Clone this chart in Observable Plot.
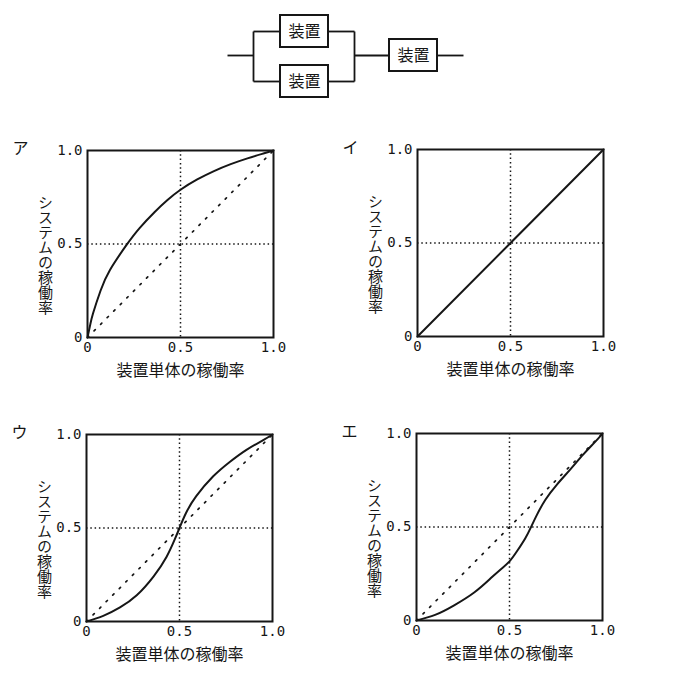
<!DOCTYPE html>
<html>
<head>
<meta charset="utf-8">
<script src="https://cdn.jsdelivr.net/npm/d3@7"></script>
<script src="https://cdn.jsdelivr.net/npm/@observablehq/plot@0.6"></script>
<style>
  html, body { margin: 0; padding: 0; background: #fff; }
  #root { position: relative; width: 680px; height: 690px; overflow: hidden; background: #fff; }
  #root > svg { position: absolute; }
</style>
</head>
<body>
<div id="root"></div>
<script>
// ---------- data ----------
const panelLetters = ["ア", "イ", "ウ", "エ"];
const xTitle = "装置単体の稼働率";
const yTitle = "システムの稼働率";
const tickValues = [0, 0.5, 1];
const tickLabels = ["0", "0.5", "1.0"];
const deviceLabels = ["装置", "装置", "装置"];

// system availability curves (x = single device, y = system)
const curveA_x = [0, 0.015, 0.03, 0.07, 0.12, 0.21, 0.28, 0.36, 0.43, 0.50, 0.59, 0.68, 0.77, 0.86, 0.95, 1];
const curveA_y = [0, 0.07, 0.13, 0.25, 0.36, 0.495, 0.585, 0.67, 0.735, 0.79, 0.845, 0.89, 0.927, 0.958, 0.985, 1];
const curveI_x = [0, 1];
const curveI_y = [0, 1];
const curveU_x = [0, 0.09, 0.18, 0.27, 0.36, 0.43, 0.475, 0.50, 0.535, 0.59, 0.68, 0.77, 0.86, 0.95, 1];
const curveU_y = [0, 0.03, 0.075, 0.14, 0.24, 0.345, 0.44, 0.50, 0.58, 0.67, 0.775, 0.853, 0.918, 0.97, 1];
const curveE_x = [0, 0.10, 0.20, 0.31, 0.40, 0.46, 0.50, 0.54, 0.585, 0.615, 0.648, 0.693, 0.755, 0.826, 0.897, 0.959, 1];
const curveE_y = [0, 0.03, 0.08, 0.15, 0.227, 0.28, 0.316, 0.37, 0.44, 0.498, 0.566, 0.646, 0.727, 0.807, 0.888, 0.954, 1];
const diagX = [0, 1];
const diagY = [0, 1];

// ---------- helpers ----------
const ink = "#161616";
const jp = "'Noto Sans CJK JP', 'Noto Sans CJK SC', sans-serif";
const mono = "'DejaVu Sans Mono', 'Liberation Mono', monospace";
const zip = (xs, ys) => xs.map((x, i) => ({x, y: ys[i]}));

const root = document.getElementById("root");

// ---------- block diagram ----------
(function diagram() {
  const L = {x0: 227, busL: 253, boxL: 280, boxW: 48, boxH: 32, busR: 354, box3L: 389, x1: 463,
             rowT: 31, rowB: 81, rowM: 55};
  const boxes = [
    {x1: L.boxL, x2: L.boxL + L.boxW, yc: L.rowT, label: deviceLabels[0]},
    {x1: L.boxL, x2: L.boxL + L.boxW, yc: L.rowB, label: deviceLabels[1]},
    {x1: L.box3L, x2: L.box3L + L.boxW, yc: L.rowM, label: deviceLabels[2]}
  ];
  const wires = [
    [L.x0, L.rowM, L.busL, L.rowM],
    [L.busL, L.rowT, L.busL, L.rowB],
    [L.busL, L.rowT, L.boxL, L.rowT],
    [L.busL, L.rowB, L.boxL, L.rowB],
    [L.boxL + L.boxW, L.rowT, L.busR, L.rowT],
    [L.boxL + L.boxW, L.rowB, L.busR, L.rowB],
    [L.busR, L.rowT, L.busR, L.rowB],
    [L.busR, L.rowM, L.box3L, L.rowM],
    [L.box3L + L.boxW, L.rowM, L.x1, L.rowM]
  ].map(([x1, y1, x2, y2]) => ({x1, y1, x2, y2}));
  const svg = Plot.plot({
    width: 680, height: 110,
    margin: 0,
    x: {domain: [0, 680], axis: null},
    y: {domain: [0, 110], reverse: true, axis: null},
    marks: [
      Plot.link(wires, {x1: "x1", y1: "y1", x2: "x2", y2: "y2", stroke: ink, strokeWidth: 1.8}),
      Plot.rect(boxes, {x1: "x1", x2: "x2", y1: d => d.yc - L.boxH / 2, y2: d => d.yc + L.boxH / 2,
        fill: "white", stroke: ink, strokeWidth: 2}),
      Plot.text(boxes, {x: d => (d.x1 + d.x2) / 2, y: "yc", text: "label", fontSize: 16,
        fontFamily: jp, fill: ink})
    ]
  });
  svg.style.left = "0px";
  svg.style.top = "0px";
  root.appendChild(svg);
})();

// ---------- panels ----------
const panels = [
  {letter: panelLetters[0], curve: zip(curveA_x, curveA_y), diag: true, fx: 87, fy: 150},
  {letter: panelLetters[1], curve: zip(curveI_x, curveI_y), diag: false, fx: 417, fy: 149},
  {letter: panelLetters[2], curve: zip(curveU_x, curveU_y), diag: true, fx: 86, fy: 434},
  {letter: panelLetters[3], curve: zip(curveE_x, curveE_y), diag: true, fx: 416, fy: 433}
];

const ML = 87, MT = 20, FW = 186, FH = 187, SW = 340, SH = 285;
const fmt = d => tickLabels[tickValues.indexOf(d)];

for (const p of panels) {
  const marks = [
    Plot.ruleX([0.5], {stroke: ink, strokeWidth: 1.5, strokeDasharray: "1.5,2.8"}),
    Plot.ruleY([0.5], {stroke: ink, strokeWidth: 1.5, strokeDasharray: "1.5,2.8"}),
  ];
  if (p.diag) {
    marks.push(Plot.line(zip(diagX, diagY), {x: "x", y: "y", stroke: ink, strokeWidth: 1.7,
      strokeDasharray: "1.7,7.6"}));
  }
  marks.push(
    Plot.line(p.curve, {x: "x", y: "y", curve: "natural", stroke: ink, strokeWidth: 2}),
    Plot.frame({stroke: ink, strokeWidth: 2}),
    Plot.axisX({ticks: tickValues, tickFormat: fmt,
      tickSize: 0, tickPadding: 5, fontSize: 14, fontFamily: mono, fill: ink, label: null}),
    Plot.axisY({ticks: tickValues, tickFormat: fmt,
      tickSize: 0, tickPadding: 5, fontSize: 14, fontFamily: mono, fill: ink, label: null}),
    Plot.text([xTitle], {frameAnchor: "bottom", lineAnchor: "middle", textAnchor: "middle",
      dy: 33, fontSize: 16, fontFamily: jp, fill: ink}),
    Plot.text([yTitle], {frameAnchor: "left", textAnchor: "middle",
      lineAnchor: "middle", dx: -42, dy: 6, fontSize: 15, fontFamily: jp, fill: ink}),
    Plot.text([p.letter], {frameAnchor: "top-left", textAnchor: "middle", lineAnchor: "middle",
      dx: -67, dy: -2, fontSize: 16, fontFamily: jp, fill: ink})
  );
  const svg = Plot.plot({
    width: SW, height: SH,
    marginLeft: ML, marginTop: MT, marginRight: SW - ML - FW, marginBottom: SH - MT - FH,
    x: {domain: [0, 1]},
    y: {domain: [0, 1]},
    style: {background: "transparent", overflow: "visible"},
    marks
  });
  // set the y title in vertical (upright) writing
  d3.select(svg).selectAll("text")
    .filter(function () { return this.textContent === yTitle; })
    .style("writing-mode", "vertical-rl")
    .style("text-orientation", "upright")
    .attr("dy", null);
  svg.style.left = (p.fx - ML) + "px";
  svg.style.top = (p.fy - MT) + "px";
  root.appendChild(svg);
}
</script>
</body>
</html>
